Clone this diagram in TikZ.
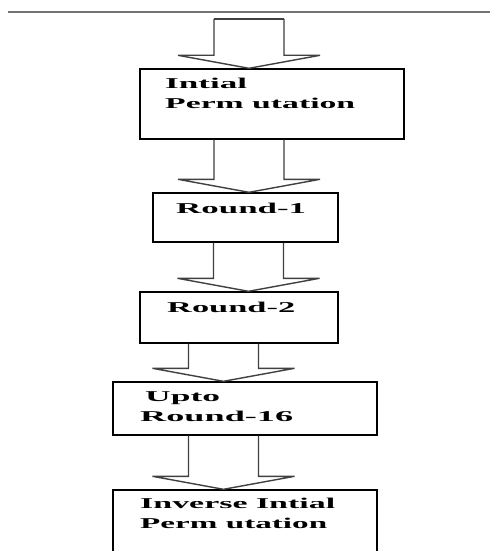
\documentclass[tikz,border=0pt]{standalone}
\usepackage{fontspec}
\setmainfont{Liberation Serif}
\usetikzlibrary{calc}
\newcommand\wtxt[2]{\resizebox{#1pt}{\height}{#2}}
\newcommand\blockarrow[3]{%
  \draw[blockarr] let \p1=(#2), \p2=(#3) in
    (#1pt-35pt,\y1) -- (#1pt-35pt,\y2+13pt) -- (#1pt-71pt,\y2+13pt) -- (#1pt,\y2)
    -- (#1pt+71pt,\y2+13pt) -- (#1pt+35pt,\y2+13pt) -- (#1pt+35pt,\y1);}
\tikzset{
  box/.style={draw=black, line width=1.4pt, rectangle, inner sep=0pt},
  lbl/.style={anchor=base west, inner sep=0pt, font=\fontsize{15pt}{18pt}\selectfont\bfseries},
  blockarr/.style={draw=black!75, line width=1.4pt, line join=miter},
  rule/.style={draw=black!55, line width=1.5pt}
}
\begin{document}
\begin{tikzpicture}[x=1pt, y=-1pt]
\clip (0,0) rectangle (490,551);
\fill[white] (0,0) rectangle (490,551);
\draw[rule] (8,12) -- (490,12);
% boxes
\node[box, minimum width=264pt, minimum height=70pt] (b1) at (272,104) {};
\node[box, minimum width=185pt, minimum height=49pt] (b2) at (245.5,217.5) {};
\node[box, minimum width=198pt, minimum height=51pt] (b3) at (239,317.5) {};
\node[box, minimum width=264pt, minimum height=53pt] (b4) at (245,408.5) {};
\node[box, minimum width=264pt, minimum height=110pt] (b5) at (245,545) {};
% labels
\node[lbl] (t1a) at (165,88) {\wtxt{82}{Intial}};
\node[lbl] (t1b) at (165,108) {\wtxt{190}{Perm utation}};
\node[lbl] (t2) at (176,213) {\wtxt{130}{Round-1}};
\node[lbl] (t3) at (167,312) {\wtxt{128}{Round-2}};
\node[lbl] (t4a) at (145,401) {\wtxt{75}{Upto}};
\node[lbl] (t4b) at (140,421) {\wtxt{153}{Round-16}};
\node[lbl] (t5a) at (140,508) {\wtxt{195}{Inverse Intial}};
\node[lbl] (t5b) at (140,528) {\wtxt{187}{Perm utation}};
% arrows
\coordinate (top) at (249,19);
\blockarrow{249}{top}{b1.north}
\draw[blockarr] ($(top)+(-35,0)$) -- ($(top)+(35,0)$);
\blockarrow{249}{b1.south}{b2.north}
\blockarrow{248.5}{b2.south}{b3.north}
\blockarrow{223.5}{b3.south}{b4.north}
\blockarrow{223.5}{b4.south}{b5.north}
\end{tikzpicture}
\end{document}
